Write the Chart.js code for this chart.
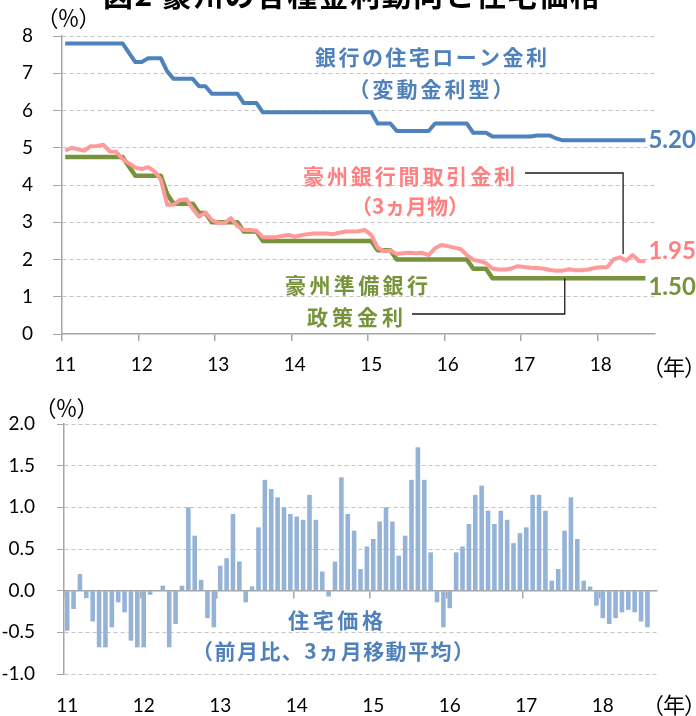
<!DOCTYPE html>
<html lang="ja">
<head>
<meta charset="utf-8">
<title>豪州の各種金利動向と住宅価格</title>
<script src="https://cdn.jsdelivr.net/npm/chart.js@4.4.1/dist/chart.umd.min.js"></script>
<style>
  html, body { margin: 0; padding: 0; background: #fff; }
  #wrap { width: 696px; height: 716px; overflow: hidden; }
  canvas { display: block; }
</style>
</head>
<body>
<div id="wrap">
  <canvas id="rates" width="696" height="380"></canvas>
  <canvas id="prices" width="696" height="336"></canvas>
</div>
<script>
// monthly categories, Jan 2011 .. Sep 2018 (last one left empty)
const YEARS = [2011, 2012, 2013, 2014, 2015, 2016, 2017, 2018];
const YEAR_LABELS = ['11', '12', '13', '14', '15', '16', '17', '18'];
const MONTHS = YEARS.flatMap(y => [1, 2, 3, 4, 5, 6, 7, 8, 9, 10, 11, 12].map(m => y + '/' + m)).slice(0, 93);

// 銀行の住宅ローン金利（変動金利型）
const MORTGAGE_RATE = [
  7.80, 7.80, 7.80, 7.80, 7.80, 7.80, 7.80, 7.80, 7.80, 7.80,
  7.55, 7.30, 7.30, 7.40, 7.40, 7.40, 7.05, 6.85, 6.85, 6.85,
  6.85, 6.65, 6.65, 6.45, 6.45, 6.45, 6.45, 6.45, 6.20, 6.20,
  6.20, 5.95, 5.95, 5.95, 5.95, 5.95, 5.95, 5.95, 5.95, 5.95,
  5.95, 5.95, 5.95, 5.95, 5.95, 5.95, 5.95, 5.95, 5.95, 5.65,
  5.65, 5.65, 5.45, 5.45, 5.45, 5.45, 5.45, 5.45, 5.65, 5.65,
  5.65, 5.65, 5.65, 5.65, 5.40, 5.40, 5.40, 5.30, 5.30, 5.30,
  5.30, 5.30, 5.30, 5.30, 5.33, 5.33, 5.33, 5.25, 5.20, 5.20,
  5.20, 5.20, 5.20, 5.20, 5.20, 5.20, 5.20, 5.20, 5.20, 5.20,
  5.20, 5.20
];

// 豪州銀行間取引金利（3ヵ月物）
const INTERBANK_3M = [
  4.92, 5.00, 4.96, 4.92, 5.04, 5.05, 5.08, 4.90, 4.89, 4.70,
  4.58, 4.47, 4.43, 4.48, 4.37, 4.14, 3.47, 3.47, 3.60, 3.62,
  3.36, 3.15, 3.26, 3.06, 2.98, 2.98, 3.11, 2.90, 2.79, 2.79,
  2.77, 2.60, 2.60, 2.60, 2.63, 2.66, 2.61, 2.65, 2.68, 2.70,
  2.70, 2.70, 2.68, 2.72, 2.75, 2.75, 2.76, 2.79, 2.66, 2.32,
  2.22, 2.24, 2.15, 2.17, 2.18, 2.17, 2.18, 2.12, 2.30, 2.39,
  2.36, 2.32, 2.28, 2.12, 1.99, 1.96, 1.90, 1.76, 1.73, 1.73,
  1.76, 1.82, 1.80, 1.78, 1.77, 1.76, 1.72, 1.70, 1.70, 1.74,
  1.71, 1.71, 1.73, 1.77, 1.79, 1.79, 2.00, 2.06, 1.97, 2.12,
  1.96, 1.95
];

// 豪州準備銀行 政策金利
const CASH_RATE = [
  4.75, 4.75, 4.75, 4.75, 4.75, 4.75, 4.75, 4.75, 4.75, 4.75,
  4.50, 4.25, 4.25, 4.25, 4.25, 4.25, 3.75, 3.50, 3.50, 3.50,
  3.50, 3.25, 3.25, 3.00, 3.00, 3.00, 3.00, 3.00, 2.75, 2.75,
  2.75, 2.50, 2.50, 2.50, 2.50, 2.50, 2.50, 2.50, 2.50, 2.50,
  2.50, 2.50, 2.50, 2.50, 2.50, 2.50, 2.50, 2.50, 2.50, 2.25,
  2.25, 2.25, 2.00, 2.00, 2.00, 2.00, 2.00, 2.00, 2.00, 2.00,
  2.00, 2.00, 2.00, 2.00, 1.75, 1.75, 1.75, 1.50, 1.50, 1.50,
  1.50, 1.50, 1.50, 1.50, 1.50, 1.50, 1.50, 1.50, 1.50, 1.50,
  1.50, 1.50, 1.50, 1.50, 1.50, 1.50, 1.50, 1.50, 1.50, 1.50,
  1.50, 1.50
];

// 住宅価格（前月比、3ヵ月移動平均）
const HOUSE_PRICE = [
  -0.48, -0.22, 0.20, -0.09, -0.37, -0.68, -0.68, -0.44, -0.14, -0.26, -0.60, -0.68,
  -0.68, -0.05, 0.00, 0.06, -0.68, -0.40, 0.06, 1.00, 0.66, 0.13, -0.33, -0.44,
  0.30, 0.39, 0.92, 0.35, -0.14, 0.05, 0.76, 1.33, 1.22, 1.12, 1.00, 0.92,
  0.89, 0.85, 1.15, 0.85, 0.23, -0.07, 0.35, 1.36, 0.92, 0.72, 0.26, 0.53,
  0.62, 0.83, 1.00, 0.83, 0.42, 0.66, 1.33, 1.72, 1.33, 0.46, -0.14, -0.44,
  -0.21, 0.46, 0.53, 0.80, 1.15, 1.26, 0.96, 0.80, 0.96, 0.85, 0.57, 0.69,
  0.76, 1.15, 1.15, 0.96, 0.12, 0.26, 0.72, 1.12, 0.62, 0.12, 0.05, -0.18,
  -0.33, -0.40, -0.33, -0.26, -0.23, -0.26, -0.37, -0.44
];

const BLUE = '#4F81BD';
const PINK = '#FF9A9A';
const PINK_TEXT = '#FF8080';
const GREEN = '#77933C';
const BAR = '#95B3D7';
const AXIS = '#A6A6A6';
const GRID = '#C4C4C4';
const NONE = 'rgba(0,0,0,0)';

const TICK_FONT = { family: 'Lato', size: 19 };
const JP = '"Noto Sans CJK JP"';
const NOTE_FONT = 'bold 21px ' + JP;
const UNIT_FONT = '22px ' + JP;

Chart.defaults.color = '#000';
Chart.defaults.font.family = 'Lato';

// draw a string centred on cx, spreading its characters over width px
function spaced(ctx, text, cx, cy, font, color, width) {
  ctx.save();
  ctx.font = font;
  ctx.fillStyle = color;
  ctx.textBaseline = 'middle';
  ctx.textAlign = 'left';
  const chars = Array.from(text);
  const ws = chars.map(c => ctx.measureText(c).width);
  const natural = ws.reduce((a, b) => a + b, 0);
  const gap = chars.length > 1 ? (width - natural) / (chars.length - 1) : 0;
  let x = cx - width / 2;
  chars.forEach((c, k) => {
    ctx.fillText(c, x, cy);
    x += ws[k] + gap;
  });
  ctx.restore();
}

const yearTick = (v, i) => (i % 12 === 0 ? YEAR_LABELS[i / 12] : '');
const yearGrid = c => (c.index % 12 === 0 && c.index < MONTHS.length ? AXIS : NONE);

const rateNotes = {
  id: 'rateNotes',
  afterDraw(chart) {
    const { ctx, scales: { x, y } } = chart;
    const px = i => x.getPixelForValue(i);

    spaced(ctx, '図2 豪州の各種金利動向と住宅価格', 351.5, -5, 'bold 30px ' + JP, '#000', 497);
    spaced(ctx, '（％）', 68.5, 18, UNIT_FONT, '#000', 64);
    spaced(ctx, '（年）', 674, 367, UNIT_FONT, '#000', 64);

    spaced(ctx, '銀行の住宅ローン金利', 431, 57, NOTE_FONT, BLUE, 232);
    spaced(ctx, '（変動金利型）', 431, 89, NOTE_FONT, BLUE, 165);
    spaced(ctx, '豪州銀行間取引金利', 409, 176, NOTE_FONT, PINK_TEXT, 212);
    spaced(ctx, '（3ヵ月物）', 410, 206, NOTE_FONT, PINK_TEXT, 118);
    spaced(ctx, '豪州準備銀行', 356.5, 285, NOTE_FONT, GREEN, 143);
    spaced(ctx, '政策金利', 355, 317.5, NOTE_FONT, GREEN, 96);

    // leader lines
    ctx.save();
    ctx.strokeStyle = '#1a1a1a';
    ctx.lineWidth = 1.3;
    const xp = (px(87) + px(88)) / 2;
    const yp = y.getPixelForValue((INTERBANK_3M[87] + INTERBANK_3M[88]) / 2) - 5;
    ctx.beginPath();
    ctx.moveTo(525, 173);
    ctx.lineTo(xp, 173);
    ctx.lineTo(xp, yp);
    ctx.stroke();
    const xg = px(78) + 0.35 * (px(79) - px(78));
    const yg = y.getPixelForValue(CASH_RATE[78]);
    ctx.beginPath();
    ctx.moveTo(412, 314);
    ctx.lineTo(xg, 314);
    ctx.lineTo(xg, yg);
    ctx.stroke();
    ctx.restore();

    // latest values
    ctx.save();
    ctx.font = 'bold 24px Lato';
    ctx.textAlign = 'left';
    ctx.textBaseline = 'middle';
    [[MORTGAGE_RATE, BLUE, 0], [INTERBANK_3M, PINK_TEXT, -10], [CASH_RATE, GREEN, 9]].forEach(([s, col, dy]) => {
      const i = s.length - 1;
      ctx.fillStyle = col;
      ctx.fillText(s[i].toFixed(2), px(i) + 3, y.getPixelForValue(s[i]) + dy);
    });
    ctx.restore();
  }
};

const priceNotes = {
  id: 'priceNotes',
  afterDraw(chart) {
    const { ctx } = chart;
    spaced(ctx, '（％）', 66.5, 28, UNIT_FONT, '#000', 64);
    spaced(ctx, '（年）', 674, 325, UNIT_FONT, '#000', 64);
    spaced(ctx, '住宅価格', 335.5, 240, NOTE_FONT, BLUE, 95);
    spaced(ctx, '（前月比、3ヵ月移動平均）', 333, 271, NOTE_FONT, BLUE, 282);
  }
};

new Chart(document.getElementById('rates'), {
  type: 'line',
  data: {
    labels: MONTHS,
    datasets: [
      { label: '豪州銀行間取引金利', data: INTERBANK_3M, borderColor: PINK, borderWidth: 4, order: 0 },
      { label: '豪州準備銀行政策金利', data: CASH_RATE, borderColor: GREEN, borderWidth: 4.5, order: 1 },
      { label: '銀行の住宅ローン金利', data: MORTGAGE_RATE, borderColor: BLUE, borderWidth: 4, order: 2 }
    ]
  },
  options: {
    responsive: false,
    animation: false,
    events: [],
    layout: { padding: { top: 36, right: 41, left: 0, bottom: 0 } },
    elements: {
      point: { radius: 0, hoverRadius: 0 },
      line: { tension: 0, fill: false, borderJoinStyle: 'round' }
    },
    plugins: { legend: { display: false }, tooltip: { enabled: false } },
    scales: {
      x: {
        type: 'category',
        offset: true,
        grid: { offset: true, drawOnChartArea: false, drawTicks: true, tickLength: 7, color: yearGrid, lineWidth: 1.5 },
        border: { color: AXIS, width: 1.5 },
        ticks: { autoSkip: false, maxRotation: 0, minRotation: 0, padding: 12, font: TICK_FONT, color: '#000', callback: yearTick },
        afterFit: s => { s.height = 46; }
      },
      y: {
        min: 0,
        max: 8,
        ticks: { stepSize: 1, padding: 20, font: TICK_FONT, color: '#000' },
        grid: { color: c => (c.tick && c.tick.value === 0 ? NONE : GRID), tickColor: AXIS, tickLength: 9, lineWidth: 1 },
        border: { color: AXIS, width: 1.5, dash: [4, 3] },
        afterFit: s => { s.width = 62; }
      }
    }
  },
  plugins: [rateNotes]
});

new Chart(document.getElementById('prices'), {
  type: 'bar',
  data: {
    labels: MONTHS,
    datasets: [
      { label: '住宅価格', data: HOUSE_PRICE, xAxisID: 'x', backgroundColor: BAR, borderWidth: 0, barPercentage: 0.72, categoryPercentage: 1 }
    ]
  },
  options: {
    responsive: false,
    animation: false,
    events: [],
    layout: { padding: { top: 44, right: 39, left: 0, bottom: 0 } },
    plugins: { legend: { display: false }, tooltip: { enabled: false } },
    scales: {
      x: {
        type: 'category',
        axis: 'x',
        offset: true,
        position: { y: 0 },
        z: 1,
        grid: { offset: true, drawOnChartArea: false, drawTicks: true, tickLength: 7, color: yearGrid, lineWidth: 1.5 },
        border: { color: AXIS, width: 1.5 },
        ticks: { display: false, autoSkip: false }
      },
      x2: {
        type: 'category',
        axis: 'x',
        offset: true,
        position: 'bottom',
        grid: { display: false, drawTicks: false },
        border: { display: false },
        ticks: { autoSkip: false, maxRotation: 0, minRotation: 0, padding: 20, font: TICK_FONT, color: '#000', callback: yearTick },
        afterFit: s => { s.height = 42; }
      },
      y: {
        min: -1,
        max: 2,
        ticks: { stepSize: 0.5, padding: 22, font: TICK_FONT, color: '#000', callback: v => v.toFixed(1) },
        grid: { color: c => (c.tick && c.tick.value === 0 ? NONE : GRID), tickColor: AXIS, tickLength: 7, lineWidth: 1 },
        border: { color: AXIS, width: 1.5, dash: [4, 3] },
        afterFit: s => { s.width = 64; }
      }
    }
  },
  plugins: [priceNotes]
});
</script>
</body>
</html>
